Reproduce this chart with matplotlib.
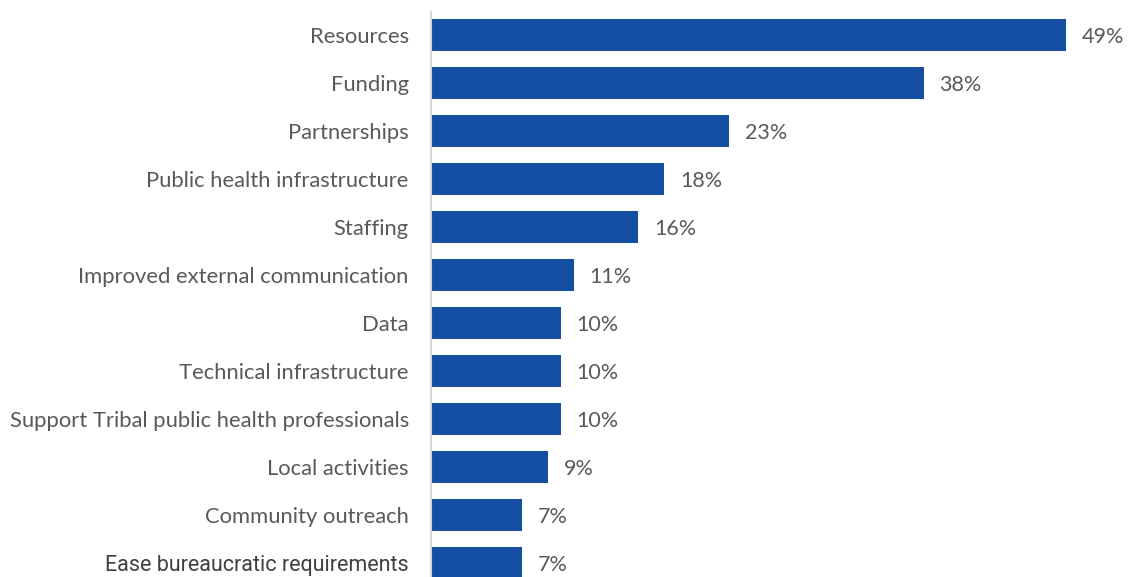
import matplotlib.pyplot as plt

categories = [
    "Resources",
    "Funding",
    "Partnerships",
    "Public health infrastructure",
    "Staffing",
    "Improved external communication",
    "Data",
    "Technical infrastructure",
    "Support Tribal public health professionals",
    "Local activities",
    "Community outreach",
    "Ease bureaucratic requirements",
]
values = [49, 38, 23, 18, 16, 11, 10, 10, 10, 9, 7, 7]

bar_color = "#154FA3"
text_color = "#595959"

fig = plt.figure(figsize=(11.28, 5.77), dpi=100)
ax = fig.add_axes([431 / 1128, 0.0, 687 / 1128, 565 / 577])

ypos = list(range(len(categories)))
ax.barh(ypos, values, height=0.667, color=bar_color)

ax.set_xlim(0, 53)
ax.set_ylim(11 + 14 / 48, -23 / 48)

for y, v in zip(ypos, values):
    ax.annotate(f"{v}%", (v, y), xytext=(11.5, 0), textcoords="offset points",
                ha="left", va="center_baseline", fontsize=15.5, color=text_color,
                family="Lato")

ax.set_yticks(ypos)
ax.set_yticklabels(categories, fontsize=15.8, color=text_color, family="Lato")
last = ax.get_yticklabels()[-1]
last.set_family("Roboto")
last.set_fontsize(15.5)
last.set_color("#404040")
ax.tick_params(axis="y", length=0, pad=16)
ax.set_xticks([])

for s in ["top", "right", "bottom"]:
    ax.spines[s].set_visible(False)
ax.spines["left"].set_color("#d9d9d9")
ax.spines["left"].set_linewidth(1.5)

fig.savefig("out.png", dpi=100)
